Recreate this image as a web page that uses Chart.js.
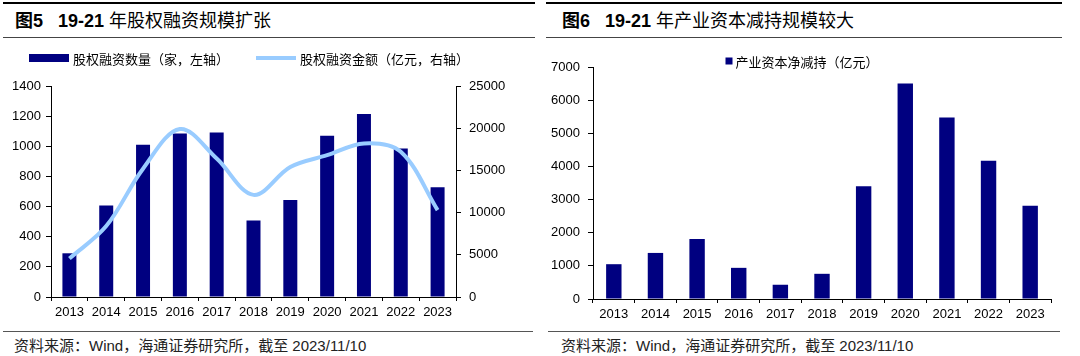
<!DOCTYPE html>
<html><head><meta charset="utf-8">
<script src="https://cdn.jsdelivr.net/npm/chart.js@4.4.0/dist/chart.umd.min.js"></script>
<style>
html,body{margin:0;padding:0;background:#fff;width:1080px;height:356px;overflow:hidden;position:relative;font-family:"Liberation Sans","Noto Sans CJK SC",sans-serif;}
.hl{position:absolute;background:#000;}
.title{position:absolute;top:9px;font-size:18px;line-height:24px;color:#000;white-space:nowrap;font-family:"Liberation Sans","Noto Sans CJK SC",sans-serif;}
.title .a{font-weight:bold;}
.title .b{font-weight:bold;margin-left:15px;}
.src{position:absolute;top:336px;font-size:15px;line-height:20px;color:#222;white-space:nowrap;}
canvas{position:absolute;top:40px;}
</style></head><body>
<div class="hl" style="left:3px;top:2px;width:532px;height:2px;"></div>
<div class="hl" style="left:3px;top:37px;width:532px;height:1px;background:#444;"></div>
<div class="hl" style="left:3px;top:331px;width:530px;height:1px;background:#555;"></div>
<div class="hl" style="left:546px;top:2px;width:516px;height:2px;"></div>
<div class="hl" style="left:546px;top:37px;width:516px;height:1px;background:#444;"></div>
<div class="hl" style="left:548px;top:331px;width:512px;height:1px;background:#555;"></div>
<div class="title" style="left:15px;"><span class="a">图5</span><span class="b">19-21</span> 年股权融资规模扩张</div>
<div class="title" style="left:562px;"><span class="a">图6</span><span class="b">19-21</span> 年产业资本减持规模较大</div>
<div class="src" style="left:14px;">资料来源：Wind，海通证券研究所，截至 2023/11/10</div>
<div class="src" style="left:561px;">资料来源：Wind，海通证券研究所，截至 2023/11/10</div>
<canvas id="c1" width="540" height="300" style="left:0px;"></canvas>
<canvas id="c2" width="540" height="300" style="left:540px;"></canvas>
<script>
const years = ['2013','2014','2015','2016','2017','2018','2019','2020','2021','2022','2023'];
const equityCount = [290, 607, 1010, 1085, 1092, 508, 643, 1070, 1215, 986, 729];
const equityAmount = [4560, 8400, 15200, 19900, 16400, 12100, 15400, 16800, 18200, 17200, 10300];
const netReduction = [1050, 1390, 1810, 940, 430, 760, 3400, 6500, 5480, 4170, 2810];
const leftAxisTicks = [0, 200, 400, 600, 800, 1000, 1200, 1400];
const rightAxisTicks = [0, 5000, 10000, 15000, 20000, 25000];
const reductionTicks = [0, 1000, 2000, 3000, 4000, 5000, 6000, 7000];

const FAMILY = "'Liberation Sans', 'Noto Sans CJK SC', sans-serif";
const NAVY = '#000080';
const LIGHT = '#99CCFF';

const customLegend = {
  id: 'customLegend',
  afterDraw(chart, args, o) {
    const ctx = chart.ctx;
    ctx.save();
    ctx.font = o.font;
    const items = chart.data.datasets.map(ds => ({
      label: ds.label,
      isLine: ds.type === 'line',
      color: ds.type === 'line' ? ds.borderColor : ds.backgroundColor
    }));
    const widths = items.map(it => (it.isLine ? o.lineW : o.boxW) + o.textGap + ctx.measureText(it.label).width);
    const total = widths.reduce((a, b) => a + b, 0) + o.itemGap * (items.length - 1);
    let x = o.centerX - total / 2;
    const y = o.y;
    items.forEach(it => {
      if (it.isLine) {
        ctx.strokeStyle = it.color; ctx.lineWidth = o.lineH; ctx.lineCap = 'butt';
        ctx.beginPath(); ctx.moveTo(x, y); ctx.lineTo(x + o.lineW, y); ctx.stroke();
        x += o.lineW;
      } else {
        ctx.fillStyle = it.color;
        ctx.fillRect(x, y - o.boxH / 2, o.boxW, o.boxH);
        x += o.boxW;
      }
      x += o.textGap;
      ctx.fillStyle = o.color; ctx.textBaseline = 'middle'; ctx.textAlign = 'left';
      ctx.fillText(it.label, x, y + 1);
      x += ctx.measureText(it.label).width + o.itemGap;
    });
    ctx.restore();
  }
};

const plain = v => String(v);

function axisCommon(extra) {
  return Object.assign({
    grid: { display: true, drawOnChartArea: false, drawTicks: true, tickLength: 5, color: '#000', lineWidth: 1 },
    border: { display: true, color: '#000', width: 1 },
    ticks: { color: '#000', font: { size: 13, family: FAMILY } }
  }, extra);
}

new Chart(document.getElementById('c1'), {
  type: 'bar',
  data: {
    labels: years,
    datasets: [
      { type: 'bar', label: '股权融资数量（家，左轴）', data: equityCount, backgroundColor: NAVY, borderWidth: 0,
        yAxisID: 'y', barPercentage: 0.38, categoryPercentage: 1, order: 1 },
      { type: 'line', label: '股权融资金额（亿元，右轴）', data: equityAmount, borderColor: LIGHT, backgroundColor: LIGHT,
        borderWidth: 4, pointRadius: 0, tension: 0.35, yAxisID: 'y1', order: 0 }
    ]
  },
  options: {
    responsive: false, animation: false, devicePixelRatio: 1,
    layout: { padding: { top: 46, right: 0, left: 0, bottom: 0 } },
    plugins: {
      legend: { display: false }, tooltip: { enabled: false },
      customLegend: { font: "13px 'Noto Sans CJK SC', sans-serif", color: '#000', centerX: 249, y: 18,
        boxW: 40, boxH: 8, lineW: 40, lineH: 4, textGap: 4, itemGap: 27 }
    },
    scales: {
      x: axisCommon({
        grid: { display: true, drawOnChartArea: false, drawTicks: true, tickLength: 4, color: '#000', offset: true },
        ticks: { color: '#000', font: { size: 13, family: FAMILY }, padding: 4, maxRotation: 0, autoSkip: false },
        afterFit: s => { s.height = 43; }
      }),
      y: axisCommon({
        position: 'left', min: 0, max: 1400,
        ticks: { color: '#000', font: { size: 13, family: FAMILY }, padding: 5, callback: plain },
        afterBuildTicks: s => { s.ticks = leftAxisTicks.map(v => ({ value: v })); },
        afterFit: s => { s.width = 51; }
      }),
      y1: axisCommon({
        position: 'right', min: 0, max: 25000,
        ticks: { color: '#000', font: { size: 13, family: FAMILY }, padding: 8, callback: plain },
        afterBuildTicks: s => { s.ticks = rightAxisTicks.map(v => ({ value: v })); },
        afterFit: s => { s.width = 84; }
      })
    }
  },
  plugins: [customLegend]
});

new Chart(document.getElementById('c2'), {
  type: 'bar',
  data: {
    labels: years,
    datasets: [
      { type: 'bar', label: '产业资本净减持（亿元）', data: netReduction, backgroundColor: NAVY, borderWidth: 0,
        barPercentage: 0.37, categoryPercentage: 1 }
    ]
  },
  options: {
    responsive: false, animation: false, devicePixelRatio: 1,
    layout: { padding: { top: 27, right: 29, left: 0, bottom: 0 } },
    plugins: {
      legend: { display: false }, tooltip: { enabled: false },
      customLegend: { font: "13px 'Noto Sans CJK SC', sans-serif", color: '#000', centerX: 262, y: 21,
        boxW: 7, boxH: 7, lineW: 40, lineH: 4, textGap: 3, itemGap: 20 }
    },
    scales: {
      x: axisCommon({
        grid: { display: true, drawOnChartArea: false, drawTicks: true, tickLength: 4, color: '#000', offset: true },
        ticks: { color: '#000', font: { size: 13, family: FAMILY }, padding: 4, maxRotation: 0, autoSkip: false },
        afterFit: s => { s.height = 41; }
      }),
      y: axisCommon({
        position: 'left', min: 0, max: 7000,
        ticks: { color: '#000', font: { size: 13, family: FAMILY }, padding: 8, callback: plain },
        afterBuildTicks: s => { s.ticks = reductionTicks.map(v => ({ value: v })); },
        afterFit: s => { s.width = 53; }
      })
    }
  },
  plugins: [customLegend]
});
</script>
</body></html>
